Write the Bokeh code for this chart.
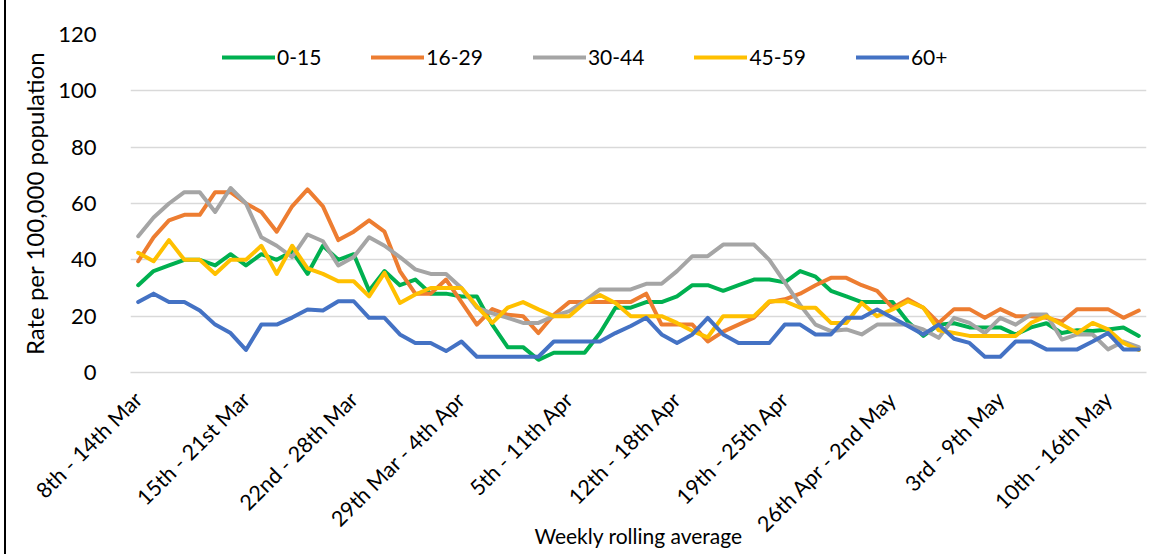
import datetime as dt
from math import pi
from bokeh.plotting import figure
from bokeh.models import Legend, LegendItem, FixedTicker, Range1d
from bokeh.embed import file_html
from bokeh.resources import INLINE

# ---------------- data ----------------
first_week_start = dt.date(2021, 3, 8)
n_weeks = 66


def ordinal(d):
    if 11 <= d % 100 <= 13:
        suf = "th"
    else:
        suf = {1: "st", 2: "nd", 3: "rd"}.get(d % 10, "th")
    return f"{d}{suf}"


def week_label(start):
    end = start + dt.timedelta(days=6)
    if start.month == end.month:
        return f"{ordinal(start.day)} - {ordinal(end.day)} {end.strftime('%b')}"
    return f"{ordinal(start.day)} {start.strftime('%b')} - {ordinal(end.day)} {end.strftime('%b')}"


categories = [week_label(first_week_start + dt.timedelta(days=i)) for i in range(n_weeks)]
tick_every = 7

series_names = ["0-15", "16-29", "30-44", "45-59", "60+"]

age_0_15 = [31, 36, 38, 40, 40, 38, 42, 38, 42, 40,
            43, 35, 45, 40, 42, 29, 36, 31, 33, 28,
            28, 27, 27, 17, 9, 9, 4.5, 7, 7, 7,
            14, 23, 23, 25, 25, 27, 31, 31, 29, 31,
            33, 33, 32, 36, 34, 29, 27, 25, 25, 25,
            18, 13, 17, 17.5, 16, 16, 16, 13.5, 16, 17.5,
            14, 15, 14.7, 15.3, 16, 13]

age_16_29 = [39.5, 48, 54, 56, 56, 64, 64, 60, 57, 50,
             59, 65, 59, 47, 50, 54, 50, 36, 28, 28,
             33, 25, 17, 22.5, 20.5, 20, 14, 20.5, 25, 25,
             25, 25, 25, 28, 17, 17, 17, 11, 14.5, 17,
             19.5, 25, 26, 28, 31, 33.6, 33.6, 31, 29, 23,
             26, 23, 17.6, 22.5, 22.5, 19.4, 22.5, 20, 20, 19.4,
             18, 22.5, 22.5, 22.5, 19.4, 22]

age_30_44 = [48.4, 55, 60, 64, 64, 57, 65.5, 60, 48, 45,
             41, 49, 46.6, 38, 41, 48, 45, 41, 36.6, 35,
             35, 30, 23, 21, 19.4, 17.6, 17.6, 20, 21.8, 25.3,
             29.5, 29.5, 29.5, 31.5, 31.5, 36, 41.3, 41.3, 45.4, 45.4,
             45.4, 40, 32, 24, 17, 14.7, 15.3, 13.5, 17, 17,
             17, 15.3, 12.3, 19.4, 17.6, 14, 19.4, 17, 20.6, 20.6,
             11.7, 13.5, 13.5, 8.2, 11, 9]

age_45_59 = [42.5, 39.5, 47, 40, 40, 35, 40, 40, 45, 35,
             45, 37, 35, 32.4, 32.4, 27, 35.4, 24.7, 27.7, 30,
             30, 30, 23.5, 17.6, 23, 25, 22.4, 20, 20, 24.7,
             27.5, 24.7, 20, 20, 20, 17.6, 14.7, 12.5, 20, 20,
             20, 25.3, 25.3, 23, 23, 17.6, 17.6, 24.7, 20, 22.4,
             25.3, 23, 15, 14, 13, 13, 13, 13, 17.6, 20,
             17, 14, 17.6, 15.3, 10.5, 8]

age_60_plus = [25, 28, 25, 25, 22, 17, 14, 8, 17, 17,
               19.5, 22.4, 22, 25.3, 25.3, 19.4, 19.4, 13.5, 10.5, 10.5,
               7.6, 11, 5.6, 5.6, 5.6, 5.6, 5.6, 11, 11, 11,
               11, 14, 16.5, 19.4, 13.5, 10.5, 13.5, 19.4, 13.5, 10.5,
               10.5, 10.5, 17, 17, 13.5, 13.5, 19.4, 19.4, 22.4, 19.4,
               16.5, 13.5, 17, 12, 10.5, 5.6, 5.6, 11, 11, 8.2,
               8.2, 8.2, 11, 14, 8.2, 8.2]

series_values = [age_0_15, age_16_29, age_30_44, age_45_59, age_60_plus]
series_colors = ["#00B050", "#ED7D31", "#A5A5A5", "#FFC000", "#4472C4"]

y_ticks = [0, 20, 40, 60, 80, 100, 120]

# ---------------- figure ----------------
FONT = "Lato"
TXT = "#000000"

p = figure(width=1146, height=554, output_backend="svg", toolbar_location=None,
           x_range=Range1d(-0.5, n_weeks - 0.5), y_range=Range1d(0, 120),
           min_border_left=124, min_border_right=6, min_border_top=34,
           min_border_bottom=182)
p.styles = {"margin-left": "4px", "border-left": "2px solid #000000"}
p.outline_line_color = None
p.background_fill_color = "white"
p.border_fill_color = "white"

x = list(range(n_weeks))
items = []
for name, vals, col in zip(series_names, series_values, series_colors):
    r = p.line(x, vals, line_color=col, line_width=4, line_join="round", line_cap="round")
    items.append(LegendItem(label=name, renderers=[r]))

legend = Legend(items=items, orientation="horizontal", location=(92, 303),
                glyph_width=53, glyph_height=22, label_standoff=2, spacing=50,
                padding=0, margin=0, background_fill_alpha=0, border_line_alpha=0,
                label_text_font=FONT, label_text_font_size="21px", label_text_color=TXT)
p.add_layout(legend)

# y axis
p.yaxis.ticker = FixedTicker(ticks=y_ticks)
p.yaxis.axis_line_color = None
p.yaxis.major_tick_line_color = None
p.yaxis.minor_tick_line_color = None
p.yaxis.major_label_standoff = 28
p.yaxis.major_label_text_font = FONT
p.yaxis.major_label_text_font_size = "22px"
p.yaxis.major_label_text_color = TXT
p.yaxis.axis_label = "Rate per 100,000 population"
p.yaxis.axis_label_text_font = FONT
p.yaxis.axis_label_text_font_size = "24px"
p.yaxis.axis_label_text_font_style = "normal"
p.yaxis.axis_label_text_color = TXT
p.yaxis.axis_label_standoff = 6

p.ygrid.ticker = FixedTicker(ticks=y_ticks)
p.ygrid.grid_line_color = "#D9D9D9"
p.ygrid.grid_line_width = 1.5
p.xgrid.visible = False

# x axis
tick_pos = list(range(0, n_weeks - 2, tick_every))
p.xaxis.ticker = FixedTicker(ticks=tick_pos)
p.xaxis.major_label_overrides = {t: categories[t] for t in tick_pos}
p.xaxis.major_label_orientation = pi / 4
p.xaxis.axis_line_color = "#D9D9D9"
p.xaxis.axis_line_width = 1.5
p.xaxis.major_tick_line_color = None
p.xaxis.minor_tick_line_color = None
p.xaxis.major_label_standoff = 17
p.xaxis.major_label_text_font = FONT
p.xaxis.major_label_text_font_size = "21.5px"
p.xaxis.major_label_text_color = TXT
p.xaxis.axis_label = "Weekly rolling average"
p.xaxis.axis_label_text_font = FONT
p.xaxis.axis_label_text_font_size = "21px"
p.xaxis.axis_label_text_font_style = "normal"
p.xaxis.axis_label_text_color = TXT
p.xaxis.axis_label_standoff = -26

open("out.html", "w").write(file_html(p, INLINE))
